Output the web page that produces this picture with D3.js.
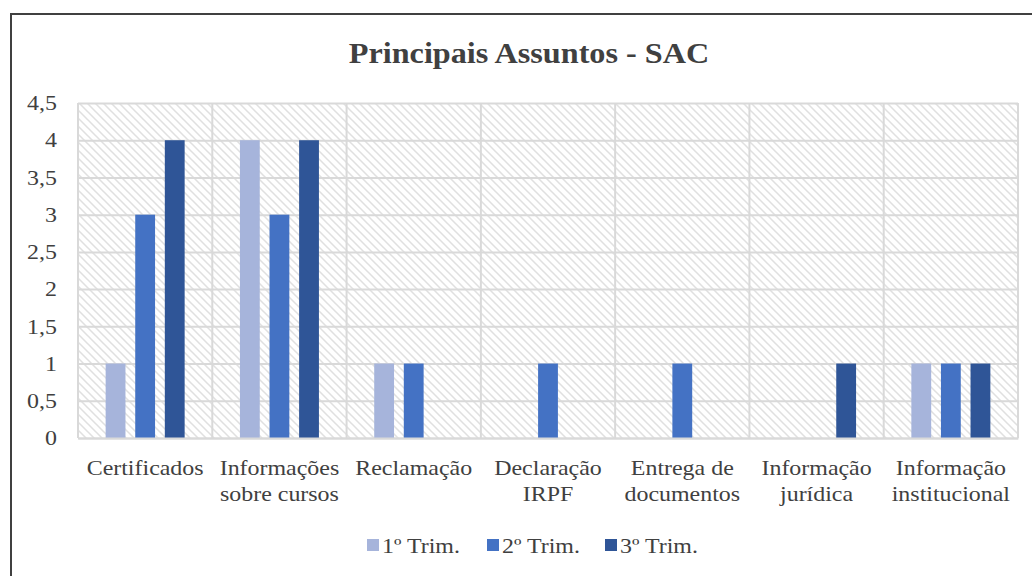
<!DOCTYPE html>
<html>
<head>
<meta charset="utf-8">
<script src="https://cdn.jsdelivr.net/npm/d3@7"></script>
<style>
  body { margin: 0; background: #fff; }
  text { font-family: "Liberation Serif", "Times New Roman", serif; fill: #404040; }
</style>
</head>
<body>
<div id="chart"></div>
<script>
let width = 1032;
let height = 576;
let stretch = 1.14; // the reference text is wider than plain Times

// data
let categories = [
	["Certificados"],
	["Informações", "sobre cursos"],
	["Reclamação"],
	["Declaração", "IRPF"],
	["Entrega de", "documentos"],
	["Informação", "jurídica"],
	["Informação", "institucional"]
];
let seriesNames = ["1º Trim.", "2º Trim.", "3º Trim."];
let trim1 = [1, 4, 1, 0, 0, 0, 1];
let trim2 = [3, 3, 1, 1, 1, 0, 1];
let trim3 = [4, 4, 0, 0, 0, 1, 1];
let yTicks = [0, 0.5, 1, 1.5, 2, 2.5, 3, 3.5, 4, 4.5];
let colors = ["#A6B4DB", "#4472C4", "#2F5597"];

let seriesValues = [trim1, trim2, trim3];
let plot = { left: 78, right: 1018, top: 103, bottom: 438 };

let svg = d3.select("#chart")
	.append("svg")
	.attr("width", width).attr("height", height);

// widen a text horizontally around its own x position
function widen(sel, x, k) {
	k = k || stretch;
	sel.attr("x", x / k).attr("transform", `scale(${k},1)`);
}

// hatch pattern for the plot area
let pattern = svg.append("defs").append("pattern")
	.attr("id", "hatch")
	.attr("patternUnits", "userSpaceOnUse")
	.attr("width", 8).attr("height", 8);
pattern.append("rect").attr("width", 8).attr("height", 8).attr("fill", "#fff");
pattern.append("path")
	.attr("d", "M-2,-2 L10,10 M-2,6 L2,10 M6,-2 L10,2")
	.attr("stroke", "#E0E0E0").attr("stroke-width", 1.5);

// outer frame (runs off the right and bottom edges)
svg.append("rect")
	.attr("x", 11).attr("y", 14)
	.attr("width", 1100).attr("height", 700)
	.attr("fill", "none").attr("stroke", "#404040").attr("stroke-width", 2);

svg.append("text")
	.attr("y", 63)
	.attr("text-anchor", "middle")
	.style("font-size", "29px").style("font-weight", "bold")
	.text("Principais Assuntos - SAC")
	.call(widen, 529, 1.11);

let x0 = d3.scaleBand().domain(d3.range(categories.length))
	.range([plot.left, plot.right]).padding(0);
let x1 = d3.scaleBand().domain(d3.range(seriesNames.length))
	.range([-39.5, 39.5]).paddingInner(0.33).paddingOuter(0);
let y = d3.scaleLinear().domain([0, 4.5]).range([plot.bottom, plot.top]);

svg.append("rect")
	.attr("x", plot.left).attr("y", plot.top)
	.attr("width", plot.right - plot.left).attr("height", plot.bottom - plot.top)
	.attr("fill", "url(#hatch)");

// grid
let yAxis = d3.axisLeft(y).tickValues(yTicks)
	.tickSize(-(plot.right - plot.left)).tickPadding(20)
	.tickFormat(d => String(d).replace(".", ","));
let gy = svg.append("g").attr("transform", `translate(${plot.left},0)`).call(yAxis);
gy.select(".domain").remove();
gy.selectAll(".tick line").attr("stroke", "#D9D9D9").attr("stroke-width", 2);
gy.selectAll(".tick text")
	.style("font-size", "21px").attr("fill", "#404040")
	.call(widen, -21);

let xAxis = d3.axisBottom(x0).tickSize(0).tickFormat("");
let vlines = d3.range(categories.length + 1).map(i => i < categories.length ? x0(i) : plot.right);
svg.append("g").selectAll("line").data(vlines).join("line")
	.attr("x1", d => d).attr("x2", d => d)
	.attr("y1", plot.top).attr("y2", plot.bottom)
	.attr("stroke", "#D9D9D9").attr("stroke-width", 2);

// bars
let groups = svg.append("g").selectAll("g").data(categories.map((c, i) => i))
	.join("g")
	.attr("transform", i => `translate(${x0(i) + x0.bandwidth() / 2},0)`);
groups.selectAll("rect")
	.data(i => seriesValues.map((s, j) => ({ j: j, v: s[i] })).filter(d => d.v > 0))
	.join("rect")
	.attr("x", d => x1(d.j))
	.attr("width", x1.bandwidth())
	.attr("y", d => y(d.v))
	.attr("height", d => y(0) - y(d.v))
	.attr("fill", d => colors[d.j]);

// x axis
let gx = svg.append("g").attr("transform", `translate(0,${plot.bottom})`).call(xAxis);
gx.select(".domain").attr("stroke", "#D9D9D9").attr("stroke-width", 2);
gx.selectAll(".tick").each(function(i) {
	let t = d3.select(this).select("text").text(null)
		.attr("y", 0).attr("dy", null)
		.attr("transform", `scale(${stretch},1)`)
		.style("font-size", "21px").attr("fill", "#404040");
	categories[i].forEach((line, k) => {
		t.append("tspan").attr("x", 0).attr("y", 37 + k * 26).text(line);
	});
});

// legend
let legendX = [367, 487, 605];
let legend = svg.append("g").selectAll("g").data(seriesNames).join("g")
	.attr("transform", (d, i) => `translate(${legendX[i]},553)`);
legend.append("rect")
	.attr("x", 0).attr("y", -14).attr("width", 12).attr("height", 12)
	.attr("fill", (d, i) => colors[i]);
legend.append("text")
	.attr("y", 0)
	.style("font-size", "21px")
	.text(d => d)
	.call(widen, 15);
</script>
</body>
</html>
